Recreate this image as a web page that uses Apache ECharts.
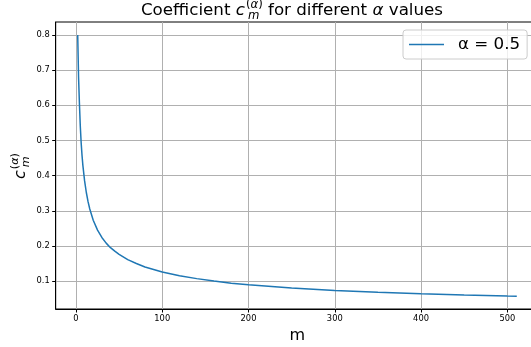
<!DOCTYPE html>
<html>
<head>
<meta charset="utf-8">
<script src="https://cdn.jsdelivr.net/npm/echarts@6/dist/echarts.min.js"></script>
<style>
html,body{margin:0;padding:0;background:#fff;}
#chart{width:531px;height:347px;}
</style>
</head>
<body>
<div id="chart"></div>
<script>
// ---- data ----
const mValues = [2, 3, 4, 5, 6, 7, 8, 10, 12, 14, 16, 20, 25, 30, 35, 40, 45, 50, 60, 70, 80, 90, 100, 120, 140, 160, 180, 200, 250, 300, 350, 400, 450, 500, 511];
const coefValues = [0.800, 0.680, 0.605, 0.541, 0.494, 0.458, 0.429, 0.385, 0.352, 0.326, 0.305, 0.273, 0.245, 0.224, 0.208, 0.195, 0.185, 0.176, 0.161, 0.150, 0.140, 0.133, 0.126, 0.115, 0.107, 0.100, 0.094, 0.0895, 0.0802, 0.0735, 0.0680, 0.0638, 0.0603, 0.0575, 0.0570];
const xTickValues = [0, 100, 200, 300, 400, 500];
const yTickValues = [0.1, 0.2, 0.3, 0.4, 0.5, 0.6, 0.7, 0.8];
const seriesName = 'α = 0.5';
const xAxisTitle = 'm';
// title: "Coefficient c_m^(α) for different α values"
const titleSpec = [
  {t: 'Coefficient '},
  {t: 'c', it: true},
  {sup: [{t: '('}, {t: 'α', it: true}, {t: ')'}], sub: [{t: 'm', it: true}]},
  {t: ' for different '},
  {t: 'α', it: true},
  {t: ' values'}
];
const yLabelSpec = [
  {t: 'c', it: true},
  {sup: [{t: '('}, {t: 'α', it: true}, {t: ')'}], sub: [{t: 'm', it: true}]}
];

// ---- math-like text builder ----
const FAM = "'DejaVu Sans'";
const mctx = document.createElement('canvas').getContext('2d');
function fontStr(size, it) { return (it ? 'italic ' : '') + size + 'px ' + FAM; }
function tw(t, size, it) { mctx.font = fontStr(size, it); return mctx.measureText(t).width; }
function txt(t, x, base, size, it) {
  return {type: 'text', x: x, y: base - 0.346 * size,
    style: {text: t, font: fontStr(size, it), fill: '#000', align: 'left', verticalAlign: 'middle'}};
}
function runPieces(pieces, x, base, size, kids) {
  pieces.forEach(p => { kids.push(txt(p.t, x, base, size, p.it)); x += tw(p.t, size, p.it); });
  return x;
}
function buildMath(spec, size) {
  const kids = []; let x = 0;
  const small = size * 0.7;
  spec.forEach(p => {
    if (p.sup) {
      const x0 = x + size * 0.06;
      const e1 = runPieces(p.sup, x0, -size * 0.42, small, kids);
      const e2 = runPieces(p.sub, x0 + size * 0.12, size * 0.24, small, kids);
      x = Math.max(e1, e2);
    } else {
      kids.push(txt(p.t, x, 0, size, p.it));
      x += tw(p.t, size, p.it);
    }
  });
  return {kids, width: x};
}

const title = buildMath(titleSpec, 16.7);
const ylab = buildMath(yLabelSpec, 16);

const chart = echarts.init(document.getElementById('chart'), null, {renderer: 'canvas'});
chart.setOption({
  animation: false,
  backgroundColor: '#fff',
  grid: {left: 55.7, top: 22, width: 483, height: 287, containLabel: false, outerBoundsMode: 'none',
    show: true, borderColor: '#000', borderWidth: 1, backgroundColor: 'transparent'},
  xAxis: {
    type: 'value', min: -23.5, max: 536.4,
    name: xAxisTitle, nameLocation: 'middle', nameGap: 13,
    nameTextStyle: {fontSize: 16, fontFamily: FAM, color: '#000'},
    axisLine: {show: true, onZero: false, lineStyle: {color: '#000', width: 1}},
    axisTick: {show: true, inside: false, length: 3.5, lineStyle: {color: '#000', width: 1}, customValues: xTickValues},
    axisLabel: {customValues: xTickValues, fontSize: 8.3, fontFamily: FAM, color: '#000', margin: 6},
    splitLine: {show: true, lineStyle: {color: '#b0b0b0', width: 1}}
  },
  yAxis: {
    type: 'value', min: 0.0206, max: 0.837,
    axisLine: {show: true, onZero: false, lineStyle: {color: '#000', width: 1}},
    axisTick: {show: true, inside: false, length: 3.5, lineStyle: {color: '#000', width: 1}, customValues: yTickValues},
    axisLabel: {customValues: yTickValues, fontSize: 8.3, fontFamily: FAM, color: '#000', margin: 6, formatter: v => v.toFixed(1)},
    splitLine: {show: true, lineStyle: {color: '#b0b0b0', width: 1}}
  },
  legend: {
    show: true, left: 403, top: 30, padding: [6, 7, 6, 6],
    itemWidth: 35, itemHeight: 1.5, icon: 'rect',
    backgroundColor: 'rgba(255,255,255,0.8)', borderColor: '#cccccc', borderWidth: 1, borderRadius: 3,
    textStyle: {fontSize: 16.7, fontFamily: FAM, color: '#000', padding: [0, 0, 0, 9]},
    data: [{name: seriesName, icon: 'rect'}]
  },
  series: [{
    type: 'line', name: seriesName,
    data: mValues.map((m, i) => [m, coefValues[i]]),
    symbol: 'none', showSymbol: false, smooth: false,
    lineStyle: {color: '#1f77b4', width: 1.5},
    itemStyle: {color: '#1f77b4'}
  }],
  graphic: [
    {type: 'group', x: 292 - title.width / 2, y: 16, children: title.kids},
    {type: 'group', x: 26, y: 166 + ylab.width / 2, rotation: Math.PI / 2, children: ylab.kids}
  ]
});
</script>
</body>
</html>
